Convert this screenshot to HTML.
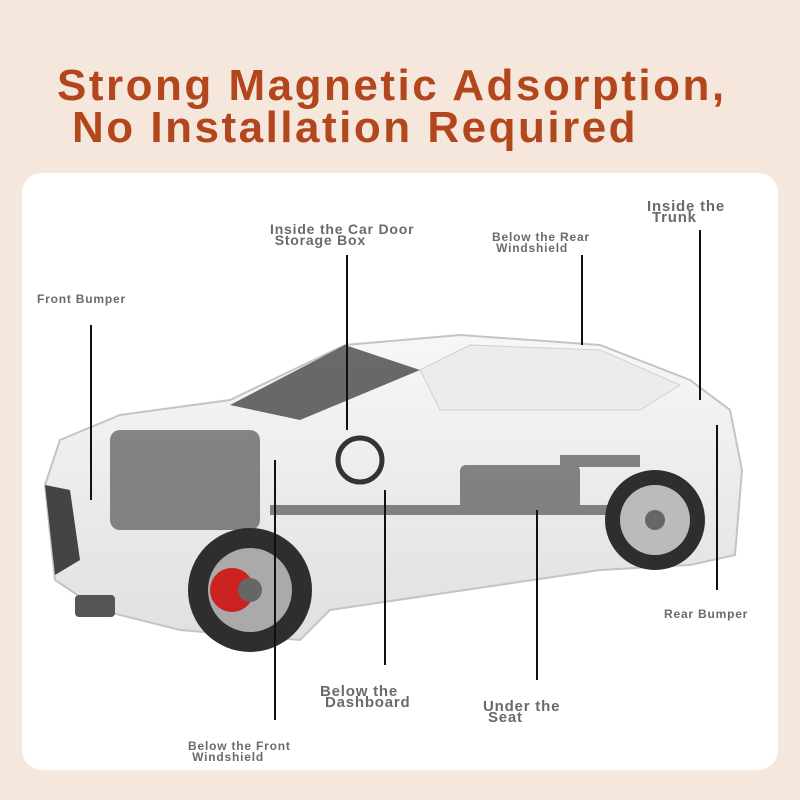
<!DOCTYPE html>
<html><head><meta charset="utf-8"><style>
body{margin:0;width:800px;height:800px;background:#f6e7dd;position:relative;overflow:hidden;font-family:"Liberation Sans",sans-serif}
.t{position:absolute;color:#b2461d;font-weight:bold;font-size:44px;letter-spacing:2.5px;white-space:nowrap}
.panel{position:absolute;left:22px;top:173px;width:756px;height:597px;background:#fff;border-radius:20px}
.l{position:absolute;color:#6a6a6a;font-weight:bold;font-size:14px;line-height:11px;white-space:nowrap;letter-spacing:0.8px}
.s{font-size:12px}
</style></head><body>
<div class="t" style="left:57px;top:61px">Strong Magnetic Adsorption,</div>
<div class="t" style="left:72px;top:103px">No Installation Required</div>
<div class="panel"></div>
<svg width="800" height="800" style="position:absolute;left:0;top:0">
<defs><linearGradient id="g" x1="0" y1="0" x2="0" y2="1"><stop offset="0" stop-color="#f7f7f7"/><stop offset="1" stop-color="#e0e0e0"/></linearGradient></defs>
<path d="M45,485 L60,440 L120,415 L230,400 L345,345 L460,335 L600,345 L690,380 L730,410 L742,470 L735,555 L690,565 L600,570 L330,610 L300,640 L180,630 L100,610 L55,580 Z" fill="url(#g)" stroke="#c4c4c4" stroke-width="2"/>
<path d="M230,405 L345,345 L420,370 L300,420 Z" fill="#3a3a3a" opacity=".75"/>
<path d="M420,370 L470,345 L600,350 L680,385 L640,410 L440,410 Z" fill="#ececec" stroke="#d0d0d0"/>
<path d="M45,485 L70,490 L80,560 L55,575 Z" fill="#444"/>
<rect x="75" y="595" width="40" height="22" fill="#555" rx="4"/>
<g fill="#555" opacity=".7">
<rect x="110" y="430" width="150" height="100" rx="10"/>
<rect x="460" y="465" width="120" height="45" rx="6"/>
<rect x="270" y="505" width="380" height="10"/>
<rect x="560" y="455" width="80" height="12"/>
</g>
<circle cx="360" cy="460" r="22" fill="none" stroke="#333" stroke-width="5"/>
<circle cx="250" cy="590" r="62" fill="#2e2e2e"/>
<circle cx="250" cy="590" r="42" fill="#aaa"/>
<circle cx="232" cy="590" r="22" fill="#c22"/>
<circle cx="250" cy="590" r="12" fill="#666"/>
<circle cx="655" cy="520" r="50" fill="#2e2e2e"/>
<circle cx="655" cy="520" r="35" fill="#bbb"/>
<circle cx="655" cy="520" r="10" fill="#666"/>
<g stroke="#111" stroke-width="2">
<line x1="91" y1="325" x2="91" y2="500"/>
<line x1="347" y1="255" x2="347" y2="430"/>
<line x1="582" y1="255" x2="582" y2="345"/>
<line x1="700" y1="230" x2="700" y2="400"/>
<line x1="717" y1="425" x2="717" y2="590"/>
<line x1="275" y1="460" x2="275" y2="720"/>
<line x1="385" y1="490" x2="385" y2="665"/>
<line x1="537" y1="510" x2="537" y2="680"/>
</g>
</svg>
<div class="l s" style="left:37px;top:294px">Front Bumper</div>
<div class="l" style="left:270px;top:224px">Inside the Car Door<br>&nbsp;Storage Box</div>
<div class="l s" style="left:492px;top:232px">Below the Rear<br>&nbsp;Windshield</div>
<div class="l" style="left:647px;top:201px;font-size:15px">Inside the<br>&nbsp;Trunk</div>
<div class="l s" style="left:664px;top:609px">Rear Bumper</div>
<div class="l" style="left:320px;top:686px;font-size:15px">Below the<br>&nbsp;Dashboard</div>
<div class="l" style="left:483px;top:701px;font-size:15px">Under the<br>&nbsp;Seat</div>
<div class="l s" style="left:188px;top:741px">Below the Front<br>&nbsp;Windshield</div>
</body></html>
